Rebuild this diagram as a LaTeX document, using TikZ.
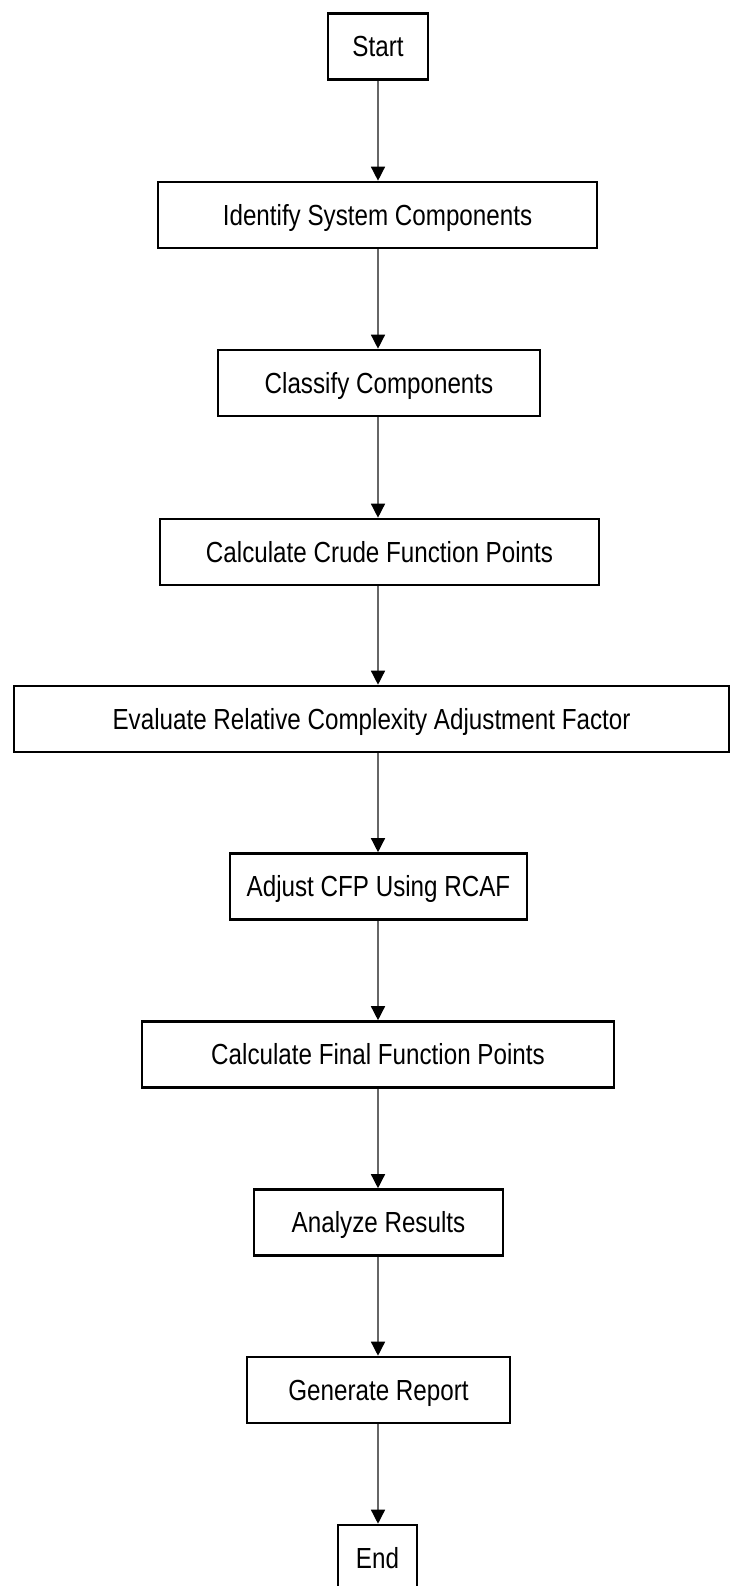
\documentclass[tikz,border=0pt]{standalone}
\usepackage{fontspec}
\setmainfont{Liberation Sans}
\usetikzlibrary{arrows.meta}
\begin{document}
\begin{tikzpicture}[x=1pt,y=-1pt,
  box/.style={draw=black,line width=2.6pt,fill=white,inner sep=0pt,minimum height=66pt,
    text height=20.8pt,text depth=0pt,
    font=\fontsize{24.2}{28}\selectfont},
  arr/.style={draw=black!60,line width=1.4pt,-{Triangle[length=14pt,width=14pt,fill=black,color=black]}}]
\useasboundingbox (0,0) rectangle (731,1586);
\node[box,minimum width=100pt] (start) at (378,46.5) {\scalebox{1}[1.2]{Start}};
\node[box,minimum width=439pt] (identify) at (377.5,215) {\scalebox{1}[1.2]{Identify System Components}};
\node[box,minimum width=322pt] (classify) at (379,383) {\scalebox{1}[1.2]{Classify Components}};
\node[box,minimum width=439pt] (crude) at (379.5,552) {\scalebox{1}[1.2]{Calculate Crude Function Points}};
\node[box,minimum width=715pt] (eval) at (371.5,719) {\scalebox{1}[1.2]{Evaluate Relative Complexity Adjustment Factor}};
\node[box,minimum width=297pt] (adjust) at (378.5,886.5) {\scalebox{1}[1.2]{Adjust CFP Using RCAF}};
\node[box,minimum width=472pt] (final) at (378,1054.5) {\scalebox{1}[1.2]{Calculate Final Function Points}};
\node[box,minimum width=249pt] (analyze) at (378.5,1222.5) {\scalebox{1}[1.2]{Analyze Results}};
\node[box,minimum width=263pt] (report) at (378.5,1390) {\scalebox{1}[1.2]{Generate Report}};
\node[box,minimum width=79pt] (end) at (377.5,1558) {\scalebox{1}[1.2]{End}};
\foreach \a/\b in {start/identify,identify/classify,classify/crude,crude/eval,eval/adjust,adjust/final,final/analyze,analyze/report,report/end}{
  \draw[arr] (\a.south -| 378,0) -- (\b.north -| 378,0);
}
\end{tikzpicture}
\end{document}
